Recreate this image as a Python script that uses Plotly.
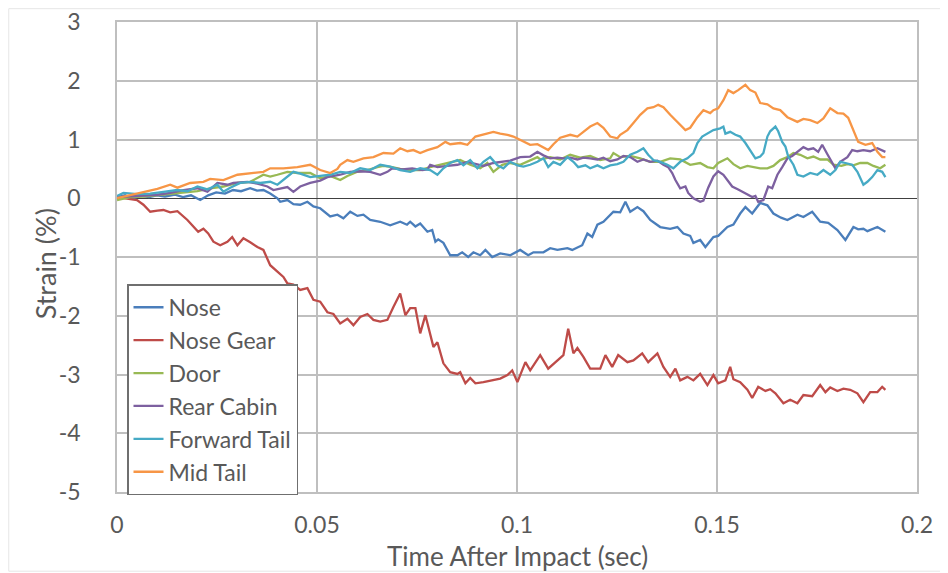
import plotly.graph_objects as go

# time in milliseconds after impact, strain in %
nose_t = [0.0, 2.0, 4.0, 6.0, 8.0, 10.0, 12.0, 14.5, 16.5, 18.5, 20.8, 22.8, 24.8, 27.0, 29.0, 31.0, 33.3, 35.0,
          36.6, 38.3, 40.1, 40.8, 42.6, 44.1, 45.8, 47.6, 49.1, 50.8, 53.3, 55.1, 56.6, 58.3, 60.1, 61.6, 63.3, 65.8, 68.3,
          70.8, 72.5, 73.3, 74.6, 75.8, 77.6, 78.8, 79.6, 80.3, 81.6, 83.3, 85.1, 86.3, 87.8, 89.1, 90.8, 92.1, 93.8,
          95.8, 98.3, 100.8, 102.8, 104.1, 106.6, 108.3, 110.1, 112.6, 113.8, 116.3, 117.6, 118.8, 120.1, 121.6, 124.1,
          125.8, 127.1, 128.3, 130.1, 131.6, 133.3, 135.8, 138.3, 140.1, 141.6, 143.3, 144.1, 145.8, 147.1, 149.1, 150.3,
          152.6, 154.1, 155.8, 157.1, 158.8, 160.8, 162.6, 164.1, 166.0, 167.6, 170.1, 171.6, 173.8, 175.8, 177.8, 180.1,
          182.1, 184.1, 185.3, 186.6, 187.6, 190.1, 192.1]
nose_y = [0.02, 0.05, 0.0, 0.04, 0.02, 0.05, 0.03, 0.06, 0.02, 0.05, -0.03, 0.05, 0.10, 0.08, 0.14, 0.12, 0.17, 0.13,
          0.14, 0.08, 0.0, -0.06, -0.03, -0.10, -0.11, -0.06, -0.14, -0.17, -0.31, -0.28, -0.34, -0.23, -0.30, -0.28, -0.37, -0.40, -0.46,
          -0.40, -0.45, -0.40, -0.48, -0.43, -0.57, -0.54, -0.74, -0.70, -0.76, -0.97, -0.97, -0.92, -1.00, -0.92, -0.97, -0.88, -1.00,
          -0.94, -0.97, -0.88, -0.97, -0.92, -0.92, -0.85, -0.88, -0.85, -0.88, -0.80, -0.60, -0.66, -0.45, -0.40, -0.23,
          -0.24, -0.06, -0.23, -0.15, -0.22, -0.37, -0.49, -0.52, -0.49, -0.60, -0.64, -0.76, -0.71, -0.83, -0.66, -0.64,
          -0.49, -0.45, -0.26, -0.15, -0.26, -0.08, -0.12, -0.26, -0.33, -0.37, -0.28, -0.32, -0.23, -0.40, -0.42, -0.54,
          -0.71, -0.49, -0.53, -0.52, -0.56, -0.49, -0.57]

gear_t = [0.0, 5.0, 6.6, 8.3, 10.1, 11.6, 13.3, 15.1, 17.6, 19.1, 20.3, 21.6, 22.8, 24.1, 25.8, 27.6, 28.8, 30.1, 31.6,
          33.3, 35.1, 36.6, 38.3, 40.1, 41.6, 42.6, 44.1, 45.8, 47.6, 49.1, 50.8, 52.6, 54.1, 55.8, 57.6, 59.1, 60.8,
          62.6, 64.1, 65.8, 67.6, 69.1, 70.8, 72.1, 73.3, 74.6, 75.8, 77.1, 79.1, 80.1, 81.6, 83.3, 85.1, 85.8, 87.1,
          88.3, 89.6, 91.6, 94.1, 95.8, 97.6, 98.8, 100.1, 102.1, 103.3, 105.8, 107.8, 110.1, 111.6, 112.8, 114.1,
          115.1, 116.6, 118.3, 120.8, 122.1, 123.8, 125.3, 127.6, 129.1, 131.3, 132.8, 135.1, 136.6, 138.3, 139.6,
          140.8, 142.6, 144.1, 145.8, 147.6, 149.1, 150.3, 152.1, 153.3, 154.1, 155.8, 157.6, 158.8, 160.3, 162.1,
          163.3, 164.6, 166.6, 168.3, 170.1, 171.6, 173.8, 175.8, 177.1, 178.3, 180.1, 181.6, 183.3, 185.1, 186.6,
          188.3, 190.1, 191.3, 192.1]
gear_y = [0.02, -0.03, -0.11, -0.23, -0.21, -0.20, -0.24, -0.22, -0.37, -0.49, -0.57, -0.52, -0.60, -0.74, -0.80, -0.74, -0.66, -0.80, -0.68,
          -0.75, -0.83, -0.88, -1.14, -1.25, -1.34, -1.45, -1.47, -1.56, -1.53, -1.73, -1.76, -1.94, -1.97, -2.13, -2.05, -2.16, -2.02,
          -1.97, -2.07, -2.10, -2.07, -1.85, -1.62, -1.99, -1.87, -1.87, -2.30, -1.99, -2.53, -2.45, -2.81, -2.96, -2.99, -2.96, -3.15,
          -3.06, -3.15, -3.13, -3.10, -3.07, -3.01, -2.93, -3.13, -2.79, -2.93, -2.67, -2.90, -2.76, -2.67, -2.22, -2.64,
          -2.55, -2.70, -2.90, -2.90, -2.67, -2.87, -2.67, -2.79, -2.76, -2.64, -2.79, -2.64, -2.87, -3.04, -2.90,
          -3.10, -3.04, -3.10, -2.99, -3.18, -3.01, -3.15, -3.10, -2.87, -3.08, -3.13, -3.26, -3.40, -3.21, -3.28,
          -3.25, -3.32, -3.49, -3.43, -3.49, -3.35, -3.37, -3.18, -3.30, -3.22, -3.28, -3.24, -3.26, -3.32, -3.47,
          -3.30, -3.30, -3.21, -3.26]

door_t = [0.0, 3.3, 6.6, 10.1, 13.3, 16.6, 20.1, 23.3, 26.6, 30.1, 33.3, 36.6, 38.3, 40.1, 42.6, 45.1, 48.3, 50.8, 53.3,
          55.8, 57.6, 60.1, 62.6, 65.1, 66.6, 68.8, 70.8, 73.3, 75.8, 78.3, 80.8, 83.3, 85.8, 88.3, 90.8, 92.6, 94.1,
          96.3, 98.3, 100.8, 103.3, 105.1, 105.8, 108.3, 110.8, 113.3, 115.8, 118.3, 120.8, 123.3, 124.1, 125.8, 128.3,
          130.8, 133.3, 135.8, 138.3, 140.8, 143.3, 145.8, 147.6, 149.1, 150.3, 152.6, 154.1, 155.8, 157.6, 159.1,
          160.8, 162.6, 164.1, 165.8, 167.6, 169.1, 170.8, 172.6, 174.1, 175.8, 177.6, 179.1, 181.1, 182.6, 184.1,
          185.8, 187.6, 189.1, 190.8, 192.1]
door_y = [-0.03, 0.02, 0.03, 0.05, 0.07, 0.10, 0.12, 0.17, 0.20, 0.26, 0.28, 0.40, 0.37, 0.40, 0.45, 0.43, 0.43, 0.34, 0.38,
          0.31, 0.38, 0.45, 0.48, 0.53, 0.55, 0.53, 0.50, 0.48, 0.48, 0.53, 0.57, 0.62, 0.65, 0.57, 0.51, 0.60, 0.45,
          0.57, 0.60, 0.57, 0.65, 0.70, 0.66, 0.70, 0.66, 0.74, 0.69, 0.72, 0.65, 0.68, 0.77, 0.70, 0.72,
          0.68, 0.62, 0.62, 0.68, 0.66, 0.57, 0.60, 0.53, 0.51, 0.60, 0.68, 0.58, 0.51, 0.55, 0.53,
          0.51, 0.51, 0.55, 0.65, 0.70, 0.77, 0.74, 0.68, 0.71, 0.66, 0.66, 0.57, 0.55, 0.58, 0.56,
          0.60, 0.60, 0.55, 0.51, 0.57]

cabin_t = [0.0, 3.3, 6.6, 10.1, 13.3, 16.6, 20.1, 22.6, 25.1, 27.6, 29.1, 32.6, 35.1, 37.6, 39.1, 40.8, 42.6, 44.1, 45.8,
           48.3, 50.8, 52.6, 55.8, 58.3, 60.8, 63.3, 65.8, 67.6, 68.8, 71.3, 73.8, 76.3, 77.6, 78.3, 80.1, 82.6, 85.1,
           87.6, 90.1, 91.6, 94.1, 96.6, 98.3, 100.8, 102.6, 103.3, 105.1, 106.6, 108.3, 110.1, 111.6, 113.3, 115.1,
           116.6, 118.3, 120.1, 121.6, 123.3, 125.1, 126.6, 128.3, 130.1, 131.6, 133.3, 135.1, 136.6, 137.8, 138.8,
           139.6, 140.8, 142.1, 142.8, 144.1, 145.8, 146.6, 147.8, 149.1, 150.3, 151.6, 152.6, 153.8, 155.3, 157.1,
           158.8, 159.6, 160.3, 161.6, 162.8, 163.8, 165.1, 166.3, 167.6, 168.8, 170.1, 171.6, 172.8, 174.1, 175.3,
           176.3, 177.6, 178.8, 179.6, 180.8, 182.6, 183.8, 185.1, 186.6, 188.3, 190.1, 191.3, 192.1]
cabin_y = [0.02, 0.03, 0.05, 0.06, 0.09, 0.14, 0.17, 0.11, 0.26, 0.23, 0.26, 0.28, 0.25, 0.20, 0.14, 0.17, 0.19, 0.11, 0.20,
           0.26, 0.30, 0.36, 0.40, 0.45, 0.46, 0.45, 0.40, 0.45, 0.51, 0.49, 0.51, 0.48, 0.49, 0.57, 0.53, 0.55, 0.57,
           0.62, 0.57, 0.55, 0.60, 0.62, 0.64, 0.70, 0.70, 0.71, 0.79, 0.73, 0.68, 0.69, 0.68, 0.69, 0.66,
           0.69, 0.68, 0.66, 0.69, 0.63, 0.66, 0.72, 0.70, 0.62, 0.66, 0.62, 0.64, 0.57, 0.53, 0.43,
           0.31, 0.17, 0.20, 0.09, 0.00, -0.06, -0.04, 0.18, 0.37, 0.46, 0.40, 0.31, 0.20, 0.15, 0.09,
           0.02, 0.04, -0.06, -0.03, 0.20, 0.17, 0.40, 0.53, 0.68, 0.72, 0.79, 0.87, 0.83, 0.85, 0.79,
           0.91, 0.75, 0.60, 0.51, 0.62, 0.70, 0.82, 0.80, 0.82, 0.80, 0.85, 0.82, 0.79]

fwd_t = [0.0, 1.6, 5.1, 8.3, 11.6, 15.1, 17.6, 20.1, 22.6, 25.1, 26.6, 28.3, 30.8, 33.3, 35.8, 38.3, 40.1, 41.6, 44.1,
         45.8, 48.3, 50.8, 53.3, 55.8, 58.3, 60.8, 63.3, 65.8, 68.3, 70.8, 73.3, 75.8, 78.3, 80.1, 81.6, 83.3, 85.1,
         86.6, 88.3, 90.1, 91.6, 93.3, 95.1, 96.6, 98.3, 100.1, 101.6, 103.3, 105.1, 106.6, 107.8, 109.1, 110.8, 112.6,
         114.1, 115.3, 117.1, 118.3, 120.1, 121.6, 123.3, 125.1, 126.6, 128.3, 130.1, 131.6, 132.8, 134.1, 135.8,
         137.6, 139.1, 140.8, 142.6, 144.1, 145.1, 146.3, 147.6, 149.1, 150.8, 151.6, 152.1, 153.3, 154.6, 155.8,
         157.1, 158.3, 159.6, 160.8, 161.6, 162.6, 163.3, 164.6, 165.3, 166.3, 167.1, 167.8, 169.1, 170.1, 171.6,
         173.3, 175.1, 176.6, 178.3, 179.6, 180.8, 182.1, 183.8, 185.1, 185.8, 186.6, 187.6, 188.8, 190.1, 191.3, 192.1]
fwd_y = [0.04, 0.09, 0.07, 0.08, 0.11, 0.14, 0.12, 0.20, 0.15, 0.23, 0.11, 0.18, 0.26, 0.28, 0.26, 0.28, 0.23, 0.31, 0.45,
         0.42, 0.36, 0.38, 0.40, 0.45, 0.43, 0.51, 0.48, 0.57, 0.54, 0.48, 0.45, 0.51, 0.48, 0.40, 0.51, 0.60, 0.65,
         0.56, 0.65, 0.51, 0.62, 0.70, 0.56, 0.51, 0.62, 0.56, 0.54, 0.57, 0.62, 0.68, 0.53, 0.62, 0.57, 0.70,
         0.62, 0.53, 0.56, 0.51, 0.56, 0.51, 0.56, 0.58, 0.62, 0.74, 0.79, 0.85, 0.74, 0.65, 0.62,
         0.57, 0.51, 0.62, 0.68, 0.77, 0.94, 1.05, 1.10, 1.16, 1.19, 1.22, 1.10, 1.13, 1.08, 1.05,
         0.94, 0.82, 0.68, 0.71, 0.77, 1.05, 1.14, 1.22, 1.14, 0.96, 0.88, 0.71, 0.57, 0.40, 0.37,
         0.43, 0.40, 0.48, 0.40, 0.48, 0.62, 0.60, 0.57, 0.45, 0.34, 0.23, 0.28, 0.36, 0.48, 0.45, 0.36]

mid_t = [0.0, 3.3, 6.6, 10.1, 13.3, 15.1, 18.3, 21.6, 23.3, 26.6, 30.1, 33.3, 36.6, 38.3, 41.6, 45.1, 48.3, 50.8, 53.3,
         55.1, 55.8, 57.6, 59.1, 61.6, 64.1, 66.6, 69.1, 70.8, 72.6, 74.1, 75.8, 77.6, 80.1, 82.1, 83.3, 85.8, 87.6,
         89.6, 91.6, 94.1, 95.8, 97.6, 99.1, 100.8, 103.3, 105.1, 106.6, 107.8, 109.1, 110.8, 113.3, 115.1, 116.6,
         118.3, 120.1, 121.6, 123.3, 125.1, 125.8, 127.6, 129.1, 130.8, 132.6, 134.1, 135.3, 136.6, 138.3, 140.1,
         142.1, 143.3, 145.1, 146.6, 148.3, 149.1, 150.3, 151.6, 152.8, 154.1, 155.3, 157.1, 158.3, 159.6, 160.8,
         162.6, 164.1, 165.8, 167.6, 170.1, 171.6, 173.3, 175.1, 176.6, 178.3, 180.1, 181.6, 182.8, 184.1, 185.3,
         187.1, 188.8, 190.1, 191.3, 192.1]
mid_y = [0.0, 0.05, 0.10, 0.16, 0.23, 0.18, 0.26, 0.28, 0.33, 0.31, 0.40, 0.43, 0.45, 0.51, 0.51, 0.53, 0.57, 0.48, 0.43,
         0.50, 0.57, 0.65, 0.62, 0.68, 0.70, 0.77, 0.76, 0.85, 0.80, 0.82, 0.77, 0.82, 0.87, 0.96, 0.92, 0.94, 0.91,
         1.05, 1.08, 1.13, 1.10, 1.08, 1.05, 0.99, 0.91, 0.92, 0.87, 0.82, 0.92, 1.03, 1.08, 1.05, 1.13,
         1.22, 1.28, 1.20, 1.05, 1.02, 1.08, 1.16, 1.28, 1.42, 1.53, 1.55, 1.59, 1.55, 1.42, 1.30,
         1.16, 1.20, 1.38, 1.50, 1.45, 1.50, 1.53, 1.67, 1.84, 1.79, 1.84, 1.93, 1.84, 1.80, 1.62,
         1.60, 1.53, 1.50, 1.38, 1.30, 1.35, 1.33, 1.28, 1.36, 1.53, 1.45, 1.44, 1.37, 1.16, 0.96,
         0.91, 0.94, 0.79, 0.70, 0.70]

series = [
    ("Nose", nose_t, nose_y, "#4A7EBB"),
    ("Nose Gear", gear_t, gear_y, "#BE4B48"),
    ("Door", door_t, door_y, "#98B954"),
    ("Rear Cabin", cabin_t, cabin_y, "#7D60A0"),
    ("Forward Tail", fwd_t, fwd_y, "#46AAC5"),
    ("Mid Tail", mid_t, mid_y, "#F79646"),
]

x_ticks = [0, 0.05, 0.1, 0.15, 0.2]
x_ticktext = ["0", "0.05", "0.1", "0.15", "0.2"]
y_ticks = [-5, -4, -3, -2, -1, 0, 1, 2, 3]
y_ticktext = ["-5", "-4", "-3", "-2", "-1", "0", "1", "2", "3"]
x_title = "Time After Impact (sec)"
y_title = "Strain (%)"

fig = go.Figure()
for name, t, y, color in series:
    fig.add_trace(go.Scatter(x=[v / 1000 for v in t], y=y, mode="lines", name=name,
                             line=dict(color=color, width=2.3)))

FONT = "Lato"
TXT = "#595959"
GRID = "#BFBFBF"

fig.update_layout(
    width=940, height=565,
    margin=dict(l=109, r=31, t=14, b=81, autoexpand=False),
    paper_bgcolor="white", plot_bgcolor="white",
    font=dict(family=FONT, color=TXT, size=22),
    showlegend=True,
    legend=dict(x=0.0125, y=-0.007, xanchor="left", yanchor="bottom",
                bgcolor="white", bordercolor="#6F6F6F", borderwidth=1.5,
                font=dict(family=FONT, size=23, color=TXT), tracegroupgap=0,
                itemwidth=30),
    xaxis=dict(range=[0, 0.2], tickvals=x_ticks, ticktext=x_ticktext, automargin=False,
               showgrid=True, gridcolor=GRID, gridwidth=1.5,
               zeroline=False, showline=True, linecolor=GRID, linewidth=1.5, mirror=True,
               ticks="", ticklabelstandoff=12, tickfont=dict(size=23), ticklabeloverflow="allow"),
    yaxis=dict(range=[-5, 3], tickvals=y_ticks, ticktext=y_ticktext, automargin=False,
               showgrid=True, gridcolor=GRID, gridwidth=1.5,
               zeroline=True, zerolinecolor="#404040", zerolinewidth=1.2,
               showline=True, linecolor=GRID, linewidth=1.5, mirror=True,
               ticks="", ticklabelstandoff=30, tickfont=dict(size=23), ticklabeloverflow="allow"),
    annotations=[
        dict(text=x_title, xref="paper", yref="paper", x=0.5, y=-0.137,
             xanchor="center", yanchor="middle", showarrow=False,
             font=dict(family=FONT, size=26, color=TXT)),
        dict(text=y_title, xref="paper", yref="paper", x=-0.0896, y=0.485,
             xanchor="center", yanchor="middle", textangle=-90, showarrow=False,
             font=dict(family=FONT, size=27, color=TXT)),
    ],
    shapes=[dict(type="rect", xref="paper", yref="paper",
                 x0=-0.1353, x1=1.0385, y0=-0.1685, y1=1.0283,
                 line=dict(color="#E6E6E6", width=1), layer="below")],
)

fig.write_html("out.html")
